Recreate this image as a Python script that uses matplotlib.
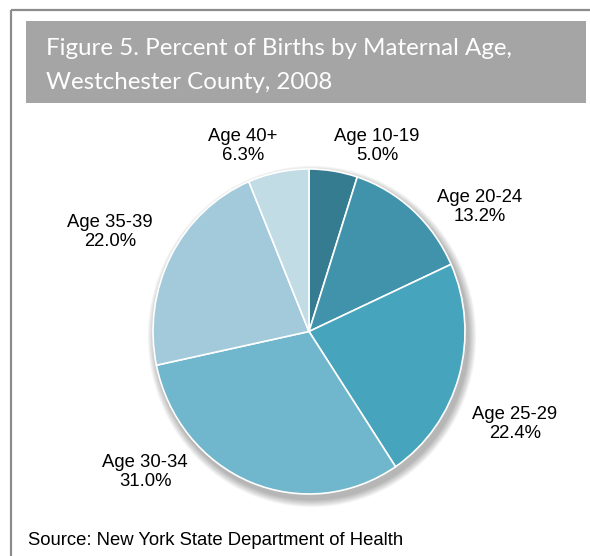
import matplotlib
matplotlib.use("Agg")
import matplotlib.pyplot as plt
from matplotlib.patches import Rectangle, Ellipse

# ============================================================
# DATA
# ============================================================

age_groups = ["Age 10-19", "Age 20-24", "Age 25-29", "Age 30-34", "Age 35-39", "Age 40+"]
percents = [5.0, 13.2, 22.4, 31.0, 22.0, 6.3]
colors = ["#357c90", "#4093aa", "#47a4bd", "#70b6cc", "#a2cadb", "#c2dce5"]

title_lines = ["Figure 5. Percent of Births by Maternal Age,", "Westchester County, 2008"]
source_text = "Source: New York State Department of Health"

# label centres in pixel coords (x, y from top)
label_pos = [(377, 146), (480, 207), (515, 424), (145, 472), (110, 232), (243, 146)]

W, H = 590, 556
DPI = 100

# pie bounding box in pixels (left, top, right, bottom)
PIE_BOX = (153, 169, 465, 494)


def py(y):
    # flip pixel y (from top) into data y
    return H - y


# ============================================================
# PLOT
# ============================================================

fig = plt.figure(figsize=(W / DPI, H / DPI), dpi=DPI)
ax = fig.add_axes([0, 0, 1, 1])
ax.set_xlim(0, W)
ax.set_ylim(0, H)
ax.axis("off")

# outer frame (left + top, rest is cut off)
ax.plot([11, 11], [py(10), py(H + 5)], color="#8c8c8c", lw=1.6, solid_capstyle="butt")
ax.plot([11, W + 5], [py(10), py(10)], color="#8c8c8c", lw=1.6, solid_capstyle="butt")

# title bar
ax.add_patch(Rectangle((26, py(103)), 586 - 26, 103 - 21, facecolor="#a5a5a5", edgecolor="none"))
ax.text(46, py(55), title_lines[0], color="white", fontsize=17.4, family="Lato", va="baseline", ha="left")
ax.text(46, py(89), title_lines[1], color="white", fontsize=17.4, family="Lato", va="baseline", ha="left")

# soft shadow under the pie
l, t, rgt, b = PIE_BOX
cx, cy = (l + rgt) / 2, py((t + b) / 2)
pw, ph = rgt - l, b - t
for i in range(10):
    ax.add_patch(Ellipse((cx + 3, cy - 5), pw + 2 + i * 1.6, ph + 2 + i * 1.6,
                         facecolor="#000000", alpha=0.03, edgecolor="none"))

for name, pct, (lx, ly) in zip(age_groups, percents, label_pos):
    ax.text(lx, py(ly), f"{name}\n{pct:.1f}%", ha="center", va="center", multialignment="center",
            fontsize=13.3, family="Liberation Sans", color="black", linespacing=1.2)

ax.text(28, py(545), source_text, ha="left", va="baseline", fontsize=13.3, family="Liberation Sans", color="black")

# pie in its own axes (slightly taller than wide, like the original)
pax = fig.add_axes([l / W, (H - b) / H, pw / W, ph / H])
pax.pie(percents, colors=colors, startangle=90, counterclock=False, radius=1,
        wedgeprops=dict(edgecolor="white", linewidth=1.2))
pax.set_aspect("auto")
pax.set_xlim(-1, 1)
pax.set_ylim(-1, 1)
pax.axis("off")

fig.savefig("out.png", dpi=DPI, facecolor="white")
